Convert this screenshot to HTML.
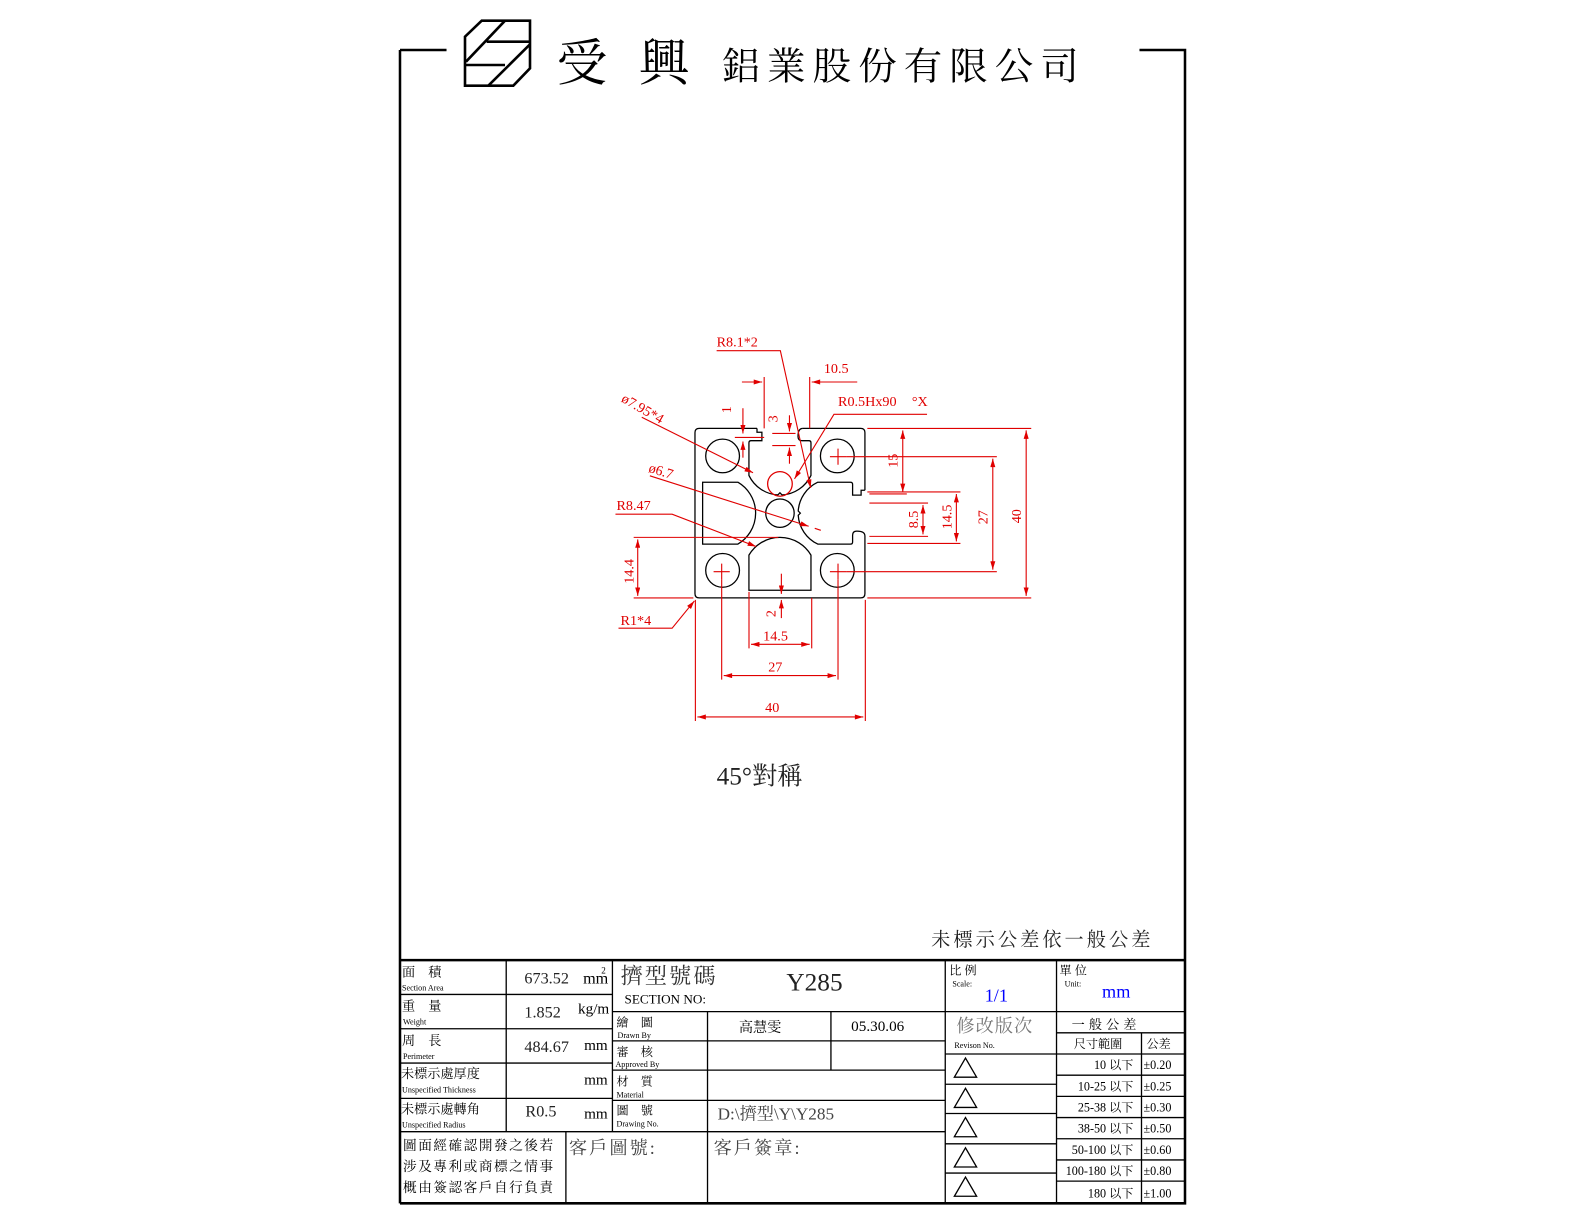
<!DOCTYPE html>
<html><head><meta charset="utf-8"><style>
html,body{margin:0;padding:0;background:#fff;}
svg{display:block;}
.k{font-family:"Liberation Serif","Noto Serif CJK SC","Noto Sans CJK TC",serif;}
.r{fill:#e00000;font-family:"Liberation Serif",serif;font-size:14px;}
</style></head><body>
<svg width="1584" height="1224" viewBox="0 0 1584 1224" xmlns="http://www.w3.org/2000/svg">
<defs>
<marker id="a" viewBox="0 0 10 6" refX="10" refY="3" markerWidth="9" markerHeight="5" orient="auto-start-reverse" markerUnits="userSpaceOnUse"><path d="M0,0 L10,3 L0,6z" fill="#e00000"/></marker>
<path id="slot" d="M-5.4,-20 L-5.4,-19.1 L-4.25,-19.1 L-4.25,-17.1 L-6.8,-17.1 Q-7.3,-17.1 -7.3,-16.6 L-7.3,-8.9 A8.1,8.1 0 0 0 -0.5,-4.3 L0,-4.8 L0.5,-4.3 A8.1,8.1 0 0 0 7.3,-8.9 L7.3,-16.6 Q7.3,-17.1 6.8,-17.1 L5.2,-17.1 Q4.25,-17.1 4.25,-18.1 Q4.25,-20 5.4,-20" fill="none" stroke="#000" stroke-width="0.3"/>
<path id="cham" d="M-7.3,18.2 L7.3,18.2 L7.3,9.9 A8.47,8.47 0 0 0 -7.3,9.9 Z" fill="none" stroke="#000" stroke-width="0.3"/>
</defs>
<!-- logo (true coords) -->
<g fill="none" stroke="#000" stroke-width="2.6">
<path d="M465,36.7 L481.7,20.7 L530,20.7 L530,68.3 L513.3,85.7 L465,85.7 Z"/>
<path d="M466,61.7 L505,20.7 M488.3,85.7 L530,44.3 M486.7,41.7 L530,41.7 M465,65 L505,65"/>
</g>
<g transform="matrix(1.0116 0 0 1.009 -0.6 1.6)">
<path d="M396,48 L442,48 M396,48 L396,1191 M1127,48 L1172,48 L1172,1191 L396,1191" fill="none" stroke="#000" stroke-width="2.5"/>
<text x="551" y="78" class="k" font-size="50">受</text>
<text x="632" y="78" class="k" font-size="50">興</text>
<text x="714" y="77" class="k" font-size="38" letter-spacing="7">鋁業股份有限公司</text>

<g transform="translate(771.6,507) scale(4.2)">
<path d="M-20,-19 Q-20,-20 -19,-20 L-5.4,-20 M5.4,-20 L19,-20 Q20,-20 20,-19 L20,-5.4 M20,5.4 L20,19 Q20,20 19,20 L-19,20 Q-20,20 -20,19 L-20,-19" fill="none" stroke="#000" stroke-width="0.3"/>
<use href="#slot"/>
<use href="#slot" transform="rotate(90)"/>
<use href="#cham"/>
<use href="#cham" transform="rotate(90)"/>
<g fill="none" stroke="#000" stroke-width="0.3">
<circle cx="-13.5" cy="-13.5" r="3.975"/><circle cx="13.5" cy="-13.5" r="3.975"/>
<circle cx="-13.5" cy="13.5" r="3.975"/><circle cx="13.5" cy="13.5" r="3.975"/>
<circle cx="0" cy="0" r="3.35"/>
</g>
<circle cx="0" cy="-6.9" r="2.9" fill="none" stroke="#e00000" stroke-width="0.3"/>
</g>

<g stroke="#e00000" stroke-width="1.1" fill="none">
<path d="M821,451 L837,451 M829,443 L829,459 M706,565 L722,565 M714,557 L714,573 M821,565 L837,565 M829,557 L829,573"/>
<path d="M688,593 L688,713 M856,593 L856,713 M714,573 L714,672 M829,573 L829,672 M741,585 L741,641 M803,591 L803,641"/>
<path d="M690,709 L854,709" marker-start="url(#a)" marker-end="url(#a)"/>
<path d="M716,668 L827,668" marker-start="url(#a)" marker-end="url(#a)"/>
<path d="M743,637 L801,637" marker-start="url(#a)" marker-end="url(#a)"/>
<path d="M773,567 L773,587" marker-end="url(#a)"/>
<path d="M773,611 L773,593" marker-end="url(#a)"/>
<path d="M858,423 L1020,423 M858,591 L1020,591 M837,451 L986,451 M837,565 L986,565 M858,486 L950,486 M858,537 L950,537 M860,497 L918,497 M860,530 L918,530 M860,488 L897,488"/>
<path d="M1015,425 L1015,589" marker-start="url(#a)" marker-end="url(#a)"/>
<path d="M982,453 L982,563" marker-start="url(#a)" marker-end="url(#a)"/>
<path d="M946,488 L946,535" marker-start="url(#a)" marker-end="url(#a)"/>
<path d="M913,499 L913,528" marker-start="url(#a)" marker-end="url(#a)"/>
<path d="M893,425 L893,486" marker-start="url(#a)" marker-end="url(#a)"/>
<path d="M627,531 L770,531 M627,591 L686,591"/>
<path d="M631,533 L631,589" marker-start="url(#a)" marker-end="url(#a)"/>
<path d="M756,372 L756,423 M801,372 L801,423"/>
<path d="M734,377 L754,377" marker-end="url(#a)"/>
<path d="M848,377 L803,377" marker-end="url(#a)"/>
<path d="M735,403 L735,428" marker-end="url(#a)"/>
<path d="M735,452 L735,436" marker-end="url(#a)"/>
<path d="M727,432 L756,432"/>
<path d="M781,410 L781,426" marker-end="url(#a)"/>
<path d="M781,458 L781,442" marker-end="url(#a)"/>
<path d="M764,428 L787,428 M764,440 L787,440"/>
<path d="M612,621 L665,621 L687,594" marker-end="url(#a)"/>
<path d="M609,508 L665,508 L748,540" marker-end="url(#a)"/>
<path d="M643,470 L800,520" marker-end="url(#a)"/>
<path d="M806,522 L812,524"/>
<path d="M635,412 L745,467" marker-end="url(#a)"/>
<path d="M709,346 L772,346 L802,482" marker-end="url(#a)"/>
<path d="M917,409 L825,409 L786,473" marker-end="url(#a)"/>
</g>
<g class="r">
<text x="757" y="704">40</text>
<text x="760" y="664">27</text>
<text x="755" y="633">14.5</text>
<text transform="translate(767,610) rotate(-90)">2</text>
<text transform="translate(1010,517) rotate(-90)">40</text>
<text transform="translate(977,518) rotate(-90)">27</text>
<text transform="translate(941,523) rotate(-90)">14.5</text>
<text transform="translate(908,522) rotate(-90)">8.5</text>
<text transform="translate(888,462) rotate(-90)">15</text>
<text transform="translate(627,577) rotate(-90)">14.4</text>
<text transform="translate(723,408) rotate(-90)">1</text>
<text transform="translate(769,417) rotate(-90)">3</text>
<text x="614" y="618">R1*4</text>
<text x="610" y="504">R8.47</text>
<text transform="translate(641,466) rotate(17)">ø6.7</text>
<text transform="translate(614,396) rotate(30)">ø7.95*4</text>
<text x="709" y="342">R8.1*2</text>
<text x="815" y="368">10.5</text>
<text x="829" y="401">R0.5Hx90</text>
<text x="902" y="401">°X</text>
</g>

<text x="709" y="776" class="k" font-size="25" fill="#222">45°對稱</text>
<text x="921" y="936" class="k" font-size="19" fill="#222" letter-spacing="3">未標示公差依一般公差</text>

<g stroke="#000" fill="none">
<path d="M396,950 L1172,950" stroke-width="2.5"/>
<path stroke-width="1.3" d="M501,950 L501,1120 M396,984 L606,984 M396,1018 L606,1018 M396,1052 L606,1052 M396,1087 L606,1087 M396,1120 L935,1120 M560,1120 L560,1191 M606,950 L606,1120 M606,1001 L935,1001 M606,1030 L935,1030 M606,1059 L935,1059 M606,1089 L935,1089 M700,1001 L700,1191 M822,1001 L822,1059 M935,950 L935,1191 M1045,950 L1045,1191 M935,1001 L1172,1001 M935,1043 L1045,1043 M935,1073 L1045,1073 M935,1102 L1045,1102 M935,1132 L1045,1132 M935,1161 L1045,1161 M1045,1022 L1172,1022 M1045,1043 L1172,1043 M1045,1064 L1172,1064 M1045,1085 L1172,1085 M1045,1106 L1172,1106 M1045,1127 L1172,1127 M1045,1148 L1172,1148 M1045,1169 L1172,1169 M1129,1022 L1129,1191"/>
<path stroke-width="1.3" d="M955,1047 L944,1066 L966,1066 Z M955,1077 L944,1096 L966,1096 Z M955,1106 L944,1125 L966,1125 Z M955,1136 L944,1155 L966,1155 Z M955,1165 L944,1184 L966,1184 Z"/>
</g>
<g class="k" fill="#000">
<text x="398" y="966" font-size="13">面　積</text><text x="398" y="980" font-size="8">Section Area</text>
<text x="398" y="1000" font-size="13">重　量</text><text x="399" y="1014" font-size="8">Weight</text>
<text x="398" y="1034" font-size="13">周　長</text><text x="399" y="1048" font-size="8">Perimeter</text>
<text x="397" y="1067" font-size="13">未標示處厚度</text><text x="398" y="1081" font-size="8">Unspecified Thickness</text>
<text x="397" y="1102" font-size="13">未標示處轉角</text><text x="398" y="1116" font-size="8">Unspecified Radius</text>
<text x="519" y="973" font-size="16" fill="#222">673.52</text><text x="577" y="973" font-size="16">mm</text><text x="595" y="963" font-size="9">2</text>
<text x="519" y="1007" font-size="16" fill="#222">1.852</text><text x="572" y="1003" font-size="15">kg/m</text>
<text x="519" y="1041" font-size="16" fill="#222">484.67</text><text x="578" y="1039" font-size="15">mm</text>
<text x="578" y="1073" font-size="15">mm</text>
<text x="520" y="1105" font-size="16" fill="#222">R0.5</text><text x="578" y="1107" font-size="15">mm</text>
<text x="399" y="1138" font-size="13.5" letter-spacing="1.5">圖面經確認開發之後若</text>
<text x="399" y="1159" font-size="13.5" letter-spacing="1.5">涉及專利或商標之情事</text>
<text x="399" y="1180" font-size="13.5" letter-spacing="1.5">概由簽認客戶自行負責</text>
<text x="563" y="1142" font-size="18" fill="#444" letter-spacing="2">客戶圖號:</text>
<text x="706" y="1142" font-size="18" fill="#444" letter-spacing="2">客戶簽章:</text>
<text x="614" y="973" font-size="22" fill="#333" letter-spacing="2">擠型號碼</text>
<text x="618" y="993" font-size="13">SECTION NO:</text>
<text x="778" y="980" font-size="25" fill="#222">Y285</text>
<text x="610" y="1016" font-size="12">繪　圖</text><text x="611" y="1027" font-size="8">Drawn By</text>
<text x="610" y="1045" font-size="12">審　核</text><text x="609" y="1056" font-size="8">Approved By</text>
<text x="610" y="1074" font-size="12">材　質</text><text x="610" y="1086" font-size="8">Material</text>
<text x="610" y="1103" font-size="12">圖　號</text><text x="610" y="1115" font-size="8">Drawing No.</text>
<text x="731" y="1021" font-size="14">高慧雯</text>
<text x="842" y="1020" font-size="15">05.30.06</text>
<text x="710" y="1108" font-size="17" fill="#444">D:\擠型\Y\Y285</text>
<text x="939" y="964" font-size="12">比 例</text><text x="942" y="976" font-size="8">Scale:</text>
<text x="974" y="991" font-size="18" fill="#0000ff">1/1</text>
<text x="1048" y="964" font-size="12">單 位</text><text x="1053" y="976" font-size="8">Unit:</text>
<text x="1090" y="987" font-size="18" fill="#0000ff">mm</text>
<text x="946" y="1021" font-size="18" fill="#777" letter-spacing="1">修改版次</text>
<text x="944" y="1037" font-size="8">Revison No.</text>
<text x="1060" y="1018" font-size="13" letter-spacing="4">一般公差</text>
<text x="1062" y="1037" font-size="12">尺寸範圍</text>
<text x="1134" y="1037" font-size="12">公差</text>
<g font-size="12" text-anchor="end">
<text x="1121" y="1058">10 以下</text>
<text x="1121" y="1079">10-25 以下</text>
<text x="1121" y="1100">25-38 以下</text>
<text x="1121" y="1121">38-50 以下</text>
<text x="1121" y="1142">50-100 以下</text>
<text x="1121" y="1163">100-180 以下</text>
<text x="1121" y="1185">180 以下</text>
</g>
<g font-size="12">
<text x="1131" y="1058">±0.20</text>
<text x="1131" y="1079">±0.25</text>
<text x="1131" y="1100">±0.30</text>
<text x="1131" y="1121">±0.50</text>
<text x="1131" y="1142">±0.60</text>
<text x="1131" y="1163">±0.80</text>
<text x="1131" y="1185">±1.00</text>
</g>
</g>
</g>
</svg>
</body></html>
